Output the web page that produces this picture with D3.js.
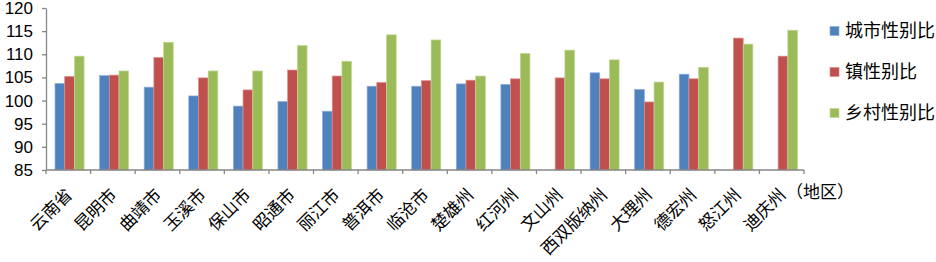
<!DOCTYPE html>
<html>
<head>
<meta charset="utf-8">
<script src="https://cdn.jsdelivr.net/npm/d3@7"></script>
<style>
  body { margin: 0; background: #fff; }
  svg { display: block; }
</style>
</head>
<body>
<svg id="chart"></svg>
<script>
// regions along the x axis
const regions = ["云南省", "昆明市", "曲靖市", "玉溪市", "保山市", "昭通市", "丽江市", "普洱市", "临沧市",
  "楚雄州", "红河州", "文山州", "西双版纳州", "大理州", "德宏州", "怒江州", "迪庆州"];

const seriesNames = ["城市性别比", "镇性别比", "乡村性别比"];

// null = no bar for that region
const cityRatio = [103.7, 105.4, 102.9, 101.0, 98.8, 99.8, 97.7, 103.1, 103.1, 103.6, 103.5, null, 106.0, 102.4, 105.7, null, null];
const townRatio = [105.2, 105.5, 109.3, 104.9, 102.3, 106.6, 105.3, 103.9, 104.3, 104.4, 104.7, 104.9, 104.7, 99.7, 104.7, 113.5, 109.6];
const ruralRatio = [109.6, 106.4, 112.6, 106.4, 106.4, 111.9, 108.5, 114.2, 113.1, 105.3, 110.2, 110.9, 108.8, 104.0, 107.2, 112.2, 115.2];

const yTicks = [85, 90, 95, 100, 105, 110, 115, 120];

const colors = ["#4F81BD", "#C0504D", "#9BBB59"];
const edgeColors = ["#8eaedb", "#dc8e8c", "#c3da98"];

const W = 936, H = 262;
const margin = {top: 8, right: 132, bottom: 92, left: 46};
const width = W - margin.left - margin.right;
const height = H - margin.top - margin.bottom;

const svg = d3.select("#chart").attr("width", W).attr("height", H);
const g = svg.append("g").attr("transform", `translate(${margin.left},${margin.top})`);

const x = d3.scaleBand().domain(regions).range([0, width]);
const x1 = d3.scaleBand().domain(d3.range(3)).range([9, x.bandwidth() - 6.5]);
const y = d3.scaleLinear().domain([85, 120]).range([height, 0]);

const data = regions.map((r, i) => ({region: r, vals: [cityRatio[i], townRatio[i], ruralRatio[i]]}));

// bars
const groups = g.selectAll(".grp").data(data).join("g")
    .attr("class", "grp")
    .attr("transform", d => `translate(${x(d.region)},0)`);

groups.selectAll("rect")
    .data(d => d.vals.map((v, k) => ({v, k})).filter(e => e.v != null))
    .join("rect")
    .attr("x", e => x1(e.k))
    .attr("width", x1.bandwidth())
    .attr("y", e => y(e.v))
    .attr("height", e => height - y(e.v))
    .attr("fill", e => colors[e.k])
    .attr("stroke", e => edgeColors[e.k])
    .attr("stroke-width", 0.7);

// y axis
const axisColor = "#868686";
const yAxisG = g.append("g")
    .call(d3.axisLeft(y).tickValues(yTicks).tickSize(4).tickSizeOuter(0).tickPadding(9));
yAxisG.select(".domain").attr("stroke", axisColor).attr("stroke-width", 1.3);
yAxisG.selectAll(".tick line").attr("stroke", axisColor).attr("stroke-width", 1.3);
yAxisG.selectAll(".tick text")
    .attr("fill", "#000")
    .style("font-family", "'Liberation Sans', Arial, sans-serif")
    .style("font-size", "17px");

// x axis: ticks on band boundaries
const boundaries = regions.map(r => x(r)).concat([width]);
g.append("line")
    .attr("x1", 0).attr("x2", width)
    .attr("y1", height).attr("y2", height)
    .attr("stroke", axisColor).attr("stroke-width", 1.3);
g.selectAll(".xtick").data(boundaries).join("line")
    .attr("class", "xtick")
    .attr("x1", d => d).attr("x2", d => d)
    .attr("y1", height).attr("y2", height + 4)
    .attr("stroke", axisColor).attr("stroke-width", 1.3);

g.selectAll(".xlab").data(regions).join("text")
    .attr("class", "xlab")
    .attr("transform", d => `translate(${x(d) + x.bandwidth() / 2 + 5},${height + 26}) rotate(-45)`)
    .attr("text-anchor", "end")
    .style("font-family", "'Noto Sans CJK SC', sans-serif")
    .style("font-size", "17px")
    .text(d => d);

g.append("text")
    .attr("x", width - 18)
    .attr("y", height + 28)
    .style("font-family", "'Noto Sans CJK SC', sans-serif")
    .style("font-size", "17px")
    .text("（地区）");

// legend
const legend = svg.append("g").attr("transform", "translate(830,0)");
const rowY = [31, 72, 113];
seriesNames.forEach((name, k) => {
  legend.append("rect")
      .attr("x", 0).attr("y", rowY[k] - 4.5)
      .attr("width", 9).attr("height", 9)
      .attr("fill", colors[k])
      .attr("stroke", edgeColors[k]).attr("stroke-width", 0.7);
  legend.append("text")
      .attr("x", 15).attr("y", rowY[k])
      .attr("dy", "0.35em")
      .style("font-family", "'Noto Sans CJK SC', sans-serif")
      .style("font-size", "18px")
      .text(name);
});
</script>
</body>
</html>
